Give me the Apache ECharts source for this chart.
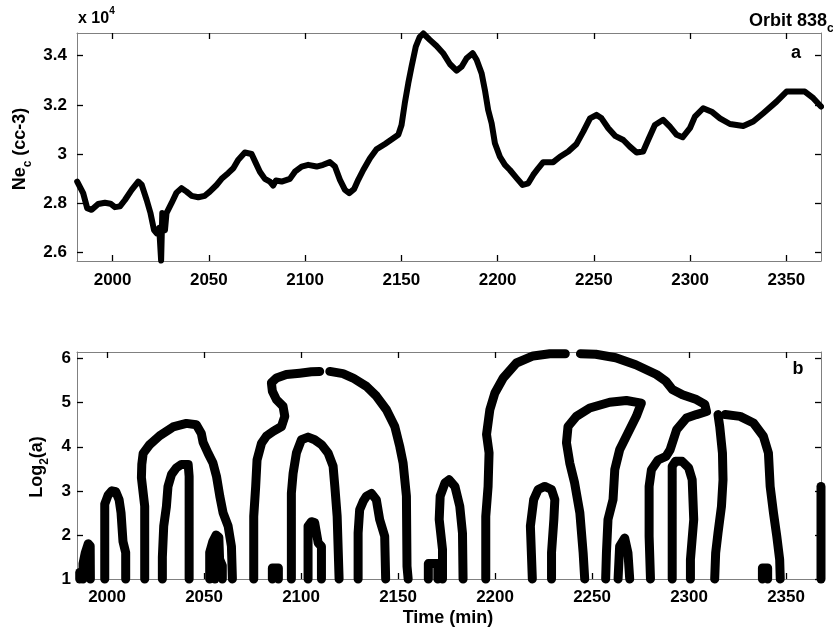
<!DOCTYPE html>
<html>
<head>
<meta charset="utf-8">
<script src="https://cdn.jsdelivr.net/npm/echarts@6/dist/echarts.min.js"></script>
<style>
  html, body { margin: 0; padding: 0; background: #fff; }
  #chart { width: 833px; height: 631px; }
</style>
</head>
<body>
<div id="chart"></div>
<script>
// panel a: electron density (x 10^4 cc-3) against time (min)
var neTime = [1981.6, 1984.7, 1986.8, 1989.1, 1992.5, 1996, 1998.9, 2001.2, 2003.8, 2006.4,
  2009.9, 2013.3, 2015.1, 2017.7, 2019.7, 2021.5, 2022.9, 2024.2, 2025.2, 2025.8,
  2027.2, 2028, 2030.6, 2033.2, 2035.8, 2038.4, 2041, 2044.5, 2047.9, 2050.5,
  2054, 2056.6, 2060, 2062.7, 2065.2, 2068.7, 2072.2, 2074.4, 2076.5, 2079.1,
  2081.7, 2083.4, 2084.8, 2087.8, 2092.1, 2094.7, 2098.2, 2101.6, 2106, 2109.4,
  2112.9, 2115.5, 2118.1, 2120.7, 2122.9, 2125.4, 2127.6, 2130.2, 2133.7, 2137.1,
  2141.5, 2145.8, 2148.4, 2150.1, 2151.8, 2153.6, 2155.3, 2157.5, 2159.5, 2161.4,
  2164.8, 2168.3, 2171.7, 2175.2, 2178.7, 2181.3, 2183.9, 2187, 2189.1, 2191.7,
  2193.4, 2195.1, 2196.9, 2198.6, 2201.2, 2203.8, 2206.4, 2209.9, 2213, 2215.9,
  2218.5, 2221.1, 2223.7, 2228.9, 2232.4, 2236.7, 2241, 2244.5, 2248, 2251.4,
  2254, 2257.5, 2261, 2265.3, 2268.7, 2272.2, 2275.6, 2278.2, 2281.7, 2286,
  2289.5, 2293, 2296.1, 2299.9, 2302.5, 2306.8, 2311.2, 2315.5, 2320.7, 2327.6,
  2332.8, 2338, 2344.9, 2350.1, 2355.3, 2359.6, 2364, 2368];
var neValue = [2.888, 2.841, 2.780, 2.773, 2.797, 2.802, 2.798, 2.784, 2.787, 2.813,
  2.854, 2.888, 2.875, 2.813, 2.759, 2.691, 2.678, 2.70, 2.567, 2.76,
  2.69, 2.76, 2.80, 2.843, 2.861, 2.847, 2.830, 2.824, 2.830, 2.847,
  2.874, 2.899, 2.922, 2.942, 2.976, 3.006, 3.000, 2.963, 2.928, 2.899,
  2.888, 2.872, 2.892, 2.888, 2.899, 2.928, 2.949, 2.956, 2.949, 2.956,
  2.967, 2.949, 2.895, 2.854, 2.841, 2.857, 2.895, 2.935, 2.983, 3.019,
  3.041, 3.064, 3.078, 3.118, 3.207, 3.288, 3.355, 3.437, 3.475, 3.49,
  3.464, 3.439, 3.41, 3.366, 3.339, 3.355, 3.389, 3.41, 3.383, 3.328,
  3.26, 3.179, 3.125, 3.044, 2.989, 2.956, 2.935, 2.902, 2.874, 2.881,
  2.915, 2.942, 2.967, 2.967, 2.989, 3.010, 3.041, 3.091, 3.145, 3.159,
  3.145, 3.105, 3.074, 3.057, 3.030, 3.006, 3.010, 3.057, 3.118, 3.139,
  3.111, 3.078, 3.068, 3.105, 3.152, 3.186, 3.172, 3.145, 3.122, 3.114,
  3.132, 3.166, 3.213, 3.254, 3.254, 3.254, 3.227, 3.193];

// panel b: wavelet maxima lines, [time, log2(scale)]
var ridge01 = [[1985.9, 1], [1985.9, 1.15]];
var ridge02 = [[1987.6, 1], [1987.6, 1.35], [1988.8, 1.6], [1990.3, 1.8], [1991.3, 1.75], [1991.4, 1]];
var ridge03 = [[1998.8, 1], [1998.8, 2.7], [2000.5, 2.9], [2002.5, 3.0], [2004.5, 2.98], [2006.2, 2.8], [2007.2, 2.5], [2008.2, 1.85], [2009.6, 1.6], [2009.6, 1]];
var ridge04 = [[2019.4, 1], [2019.4, 2.65], [2017.7, 3.3], [2017.9, 3.6], [2018.6, 3.85], [2022, 4.05], [2027.1, 4.25], [2034, 4.45], [2040.9, 4.53], [2046, 4.5], [2048.6, 4.3], [2049.5, 4.1], [2052.1, 3.85], [2054.6, 3.63], [2056.4, 3.33], [2058.1, 2.88], [2059.8, 2.5], [2062.4, 2.2], [2064.1, 1.74], [2064.6, 1]];
var ridge05 = [[2028.5, 1], [2028.5, 1.5], [2029.2, 2.2], [2030.6, 2.65], [2031.4, 3.1], [2033.2, 3.37], [2035.7, 3.52], [2038.3, 3.6], [2041.8, 3.6], [2042.3, 3.33], [2042.3, 1]];
var ridge06 = [[2052.9, 1], [2052.9, 1.6], [2054.5, 1.85], [2056.2, 2.0], [2057.6, 1.95], [2058, 1.45], [2059.4, 1.3], [2059.4, 1]];
var ridge07 = [[2055.6, 1], [2055.6, 1.9]];
var ridge08 = [[2075.6, 1], [2075.6, 2.42], [2076.6, 3.1], [2077.3, 3.7], [2079.6, 4.08], [2082.1, 4.24], [2085.6, 4.35], [2089.9, 4.46], [2091.6, 4.69], [2090.7, 4.92], [2087.3, 5.07], [2085.2, 5.26], [2084.7, 5.45], [2087.3, 5.56], [2092.4, 5.64], [2099.3, 5.67], [2105.3, 5.7], [2109.6, 5.71]];
var ridge09 = [[2085.2, 1], [2085.2, 1.25], [2088.3, 1.25], [2088.3, 1]];
var ridge10 = [[2095, 1], [2095, 2.95], [2095.9, 3.4], [2097.6, 3.86], [2100.2, 4.16], [2103.6, 4.22], [2107, 4.16], [2110.5, 4.05], [2113.9, 3.86], [2116.5, 3.56], [2117.4, 3.1], [2118.6, 2.42], [2119.6, 1]];
var ridge11 = [[2103.6, 1], [2103.6, 2.2], [2105.3, 2.3], [2107, 2.28], [2108.8, 1.82], [2110.5, 1.74], [2110.5, 1]];
var ridge12 = [[2114.8, 5.71], [2121.6, 5.66], [2126.8, 5.56], [2133.7, 5.37], [2138.8, 5.15], [2144, 4.84], [2148.3, 4.46], [2150.9, 4.0], [2152.6, 3.63], [2154.3, 2.88], [2154.6, 1.29], [2155.2, 1]];
var ridge13 = [[2129.4, 1], [2129.4, 2.04], [2130.2, 2.57], [2132, 2.76], [2133.7, 2.88], [2136.3, 2.94], [2138.8, 2.8], [2140.5, 2.35], [2143.1, 1.97], [2143.6, 1]];
var ridge14 = [[2165.6, 1], [2165.6, 1.35], [2170.5, 1.35], [2170.5, 1]];
var ridge15 = [[2172.9, 1], [2172.9, 1.67], [2171.2, 2.35], [2171.7, 2.88], [2174.2, 3.18], [2176.3, 3.25], [2179.3, 3.1], [2181.8, 2.65], [2183.2, 2.04], [2183.5, 1]];
var ridge16 = [[2195.2, 1], [2195.2, 2.42], [2196.4, 3.1], [2196.9, 3.86], [2195.6, 4.28], [2197.3, 4.84], [2199.9, 5.22], [2204.2, 5.56], [2211, 5.9], [2219.6, 6.06], [2228.2, 6.11], [2236.2, 6.11]];
var ridge17 = [[2244, 6.11], [2251.9, 6.1], [2262.2, 6.02], [2272.5, 5.86], [2283.2, 5.64], [2288, 5.49], [2291.4, 5.3], [2296.6, 5.18], [2303.8, 5.07], [2308.1, 4.96], [2309, 4.8], [2303.8, 4.73], [2298.6, 4.65], [2293.6, 4.39], [2290.2, 3.93], [2288.1, 3.78], [2284, 3.7], [2280.6, 3.48], [2279.4, 3.1], [2279.4, 1.97], [2280.1, 1]];
var ridge18 = [[2246.2, 1], [2245.4, 1.59], [2243.7, 2.5], [2241, 3.18], [2238.5, 3.63], [2236.8, 4.09], [2237.6, 4.46], [2241.9, 4.69], [2248.8, 4.88], [2259.1, 5.01], [2267.7, 5.05], [2275.4, 4.99], [2272.8, 4.69], [2268.5, 4.31], [2264.2, 3.93], [2261.7, 3.48], [2260.8, 2.8], [2258.2, 2.35], [2257.4, 1.59], [2257, 1]];
var ridge19 = [[2219.2, 1], [2218.2, 2.2], [2219.9, 2.8], [2222.2, 3.03], [2225.6, 3.1], [2229.1, 3.03], [2230.8, 2.8], [2230.3, 2.35], [2229.1, 1.6], [2229.1, 1]];
var ridge20 = [[2263.4, 1], [2264.2, 1.74], [2266.8, 1.93], [2268.5, 1.59], [2269.4, 1]];
var ridge21 = [[2291.3, 1], [2291.3, 3.56], [2293, 3.67], [2296.4, 3.67], [2299.8, 3.52], [2301.6, 3.25], [2302.4, 2.35], [2300.7, 1.44], [2300.7, 1]];
var ridge22 = [[2314.9, 4.73], [2315.8, 4.46], [2317.2, 3.86], [2317.5, 3.25], [2316.7, 2.65], [2314.9, 2.04], [2313.7, 1.59], [2313.2, 1]];
var ridge23 = [[2318.6, 4.73], [2326.3, 4.69], [2333.2, 4.54], [2338.3, 4.24], [2340.9, 3.86], [2341.8, 3.1], [2343.5, 2.5], [2345.2, 1.97], [2346.7, 1.44], [2347, 1]];
var ridge24 = [[2337.8, 1], [2337.8, 1.25], [2340.5, 1.25], [2340.5, 1]];
var ridge25 = [[2368, 1], [2368, 3.1]];
var ridges = [ridge01, ridge02, ridge03, ridge04, ridge05, ridge06, ridge07, ridge08, ridge09,
  ridge10, ridge11, ridge12, ridge13, ridge14, ridge15, ridge16, ridge17, ridge18, ridge19,
  ridge20, ridge21, ridge22, ridge23, ridge24, ridge25];

// tick values
var timeTicks = [2000, 2050, 2100, 2150, 2200, 2250, 2300, 2350];
var neTicks = [2.6, 2.8, 3, 3.2, 3.4];
var scaleTicks = [1, 2, 3, 4, 5, 6];

var FONT = "'Liberation Sans', Arial, sans-serif";
var AXIS_GRAY = '#808080';

function makeAxis(grid, pos, min, max, ticks, showLabel, margin) {
  return {
    gridIndex: grid,
    type: 'value',
    position: pos,
    min: min,
    max: max,
    axisLine: { show: true, onZero: false, lineStyle: { color: AXIS_GRAY, width: 1 } },
    axisTick: { show: true, inside: true, length: 6, customValues: ticks, lineStyle: { color: '#000', width: 1.3 } },
    axisLabel: {
      show: showLabel,
      customValues: ticks,
      margin: margin,
      color: '#000',
      fontSize: 17,
      fontWeight: 'bold',
      fontFamily: FONT,
      formatter: function (v) { return String(v); }
    },
    splitLine: { show: false }
  };
}

var seriesList = [{
  type: 'line',
  xAxisIndex: 0,
  yAxisIndex: 0,
  data: neTime.map(function (t, i) { return [t, neValue[i]]; }),
  showSymbol: false,
  clip: false,
  silent: true,
  lineStyle: { color: '#000', width: 6, cap: 'round', join: 'round' }
}];
ridges.forEach(function (r) {
  seriesList.push({
    type: 'line',
    xAxisIndex: 2,
    yAxisIndex: 2,
    data: r,
    showSymbol: false,
    clip: false,
    silent: true,
    lineStyle: { color: '#000', width: 9, cap: 'round', join: 'round' }
  });
});

function label(text, x, y, rot, align, rich) {
  return {
    type: 'text',
    x: x,
    y: y,
    rotation: rot,
    silent: true,
    style: { text: text, align: align, verticalAlign: 'middle', rich: rich }
  };
}
var mainTok = { fontSize: 18, fontWeight: 'bold', fontFamily: FONT, fill: '#000', lineHeight: 18, verticalAlign: 'middle' };
var subTok = { fontSize: 12, fontWeight: 'bold', fontFamily: FONT, fill: '#000', lineHeight: 28, verticalAlign: 'bottom' };

var chart = echarts.init(document.getElementById('chart'));
chart.setOption({
  animation: false,
  backgroundColor: '#fff',
  grid: [
    { left: 77, top: 33, width: 744, height: 228, outerBoundsMode: 'none' },
    { left: 77, top: 352, width: 744, height: 227, outerBoundsMode: 'none' }
  ],
  xAxis: [
    makeAxis(0, 'bottom', 1981.5, 2368, timeTicks, true, 11),
    makeAxis(0, 'top', 1981.5, 2368, timeTicks, false, 8),
    makeAxis(1, 'bottom', 1984.5, 2368, timeTicks, true, 10),
    makeAxis(1, 'top', 1984.5, 2368, timeTicks, false, 8)
  ],
  yAxis: [
    makeAxis(0, 'left', 2.565, 3.492, neTicks, true, 10),
    makeAxis(0, 'right', 2.565, 3.492, neTicks, false, 8),
    makeAxis(1, 'left', 1, 6.15, scaleTicks, true, 6),
    makeAxis(1, 'right', 1, 6.15, scaleTicks, false, 8)
  ],
  series: seriesList,
  graphic: [
    label('{n|x 10}{p|4}', 78, 19, 0, 'left', {
      n: { fontSize: 16, fontWeight: 'bold', fontFamily: FONT, fill: '#000', lineHeight: 16, verticalAlign: 'middle' },
      p: { fontSize: 10, fontWeight: 'bold', fontFamily: FONT, fill: '#000', lineHeight: 25, verticalAlign: 'top' }
    }),
    label('{n|Orbit 838}{s|c}', 749, 21, 0, 'left', { n: mainTok, s: subTok }),
    label('{n|a}', 796, 53, 0, 'center', { n: mainTok }),
    label('{n|b}', 798, 369, 0, 'center', { n: mainTok }),
    label('{n|Ne}{s|c}{n| (cc-3)}', 20, 149, Math.PI / 2, 'center', { n: mainTok, s: subTok }),
    label('{n|Log}{s|2}{n|(a)}', 37, 467, Math.PI / 2, 'center', { n: mainTok, s: subTok }),
    label('{n|Time (min)}', 448, 618, 0, 'center', { n: mainTok })
  ]
});
</script>
</body>
</html>
